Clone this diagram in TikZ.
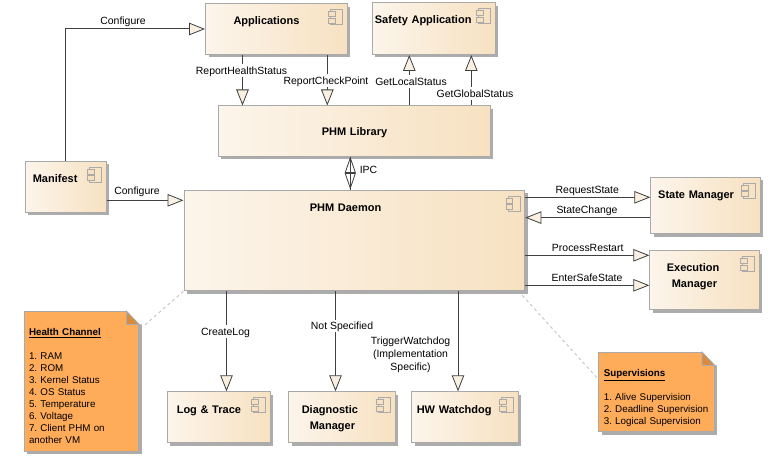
\documentclass[tikz,border=0pt]{standalone}
\usepackage{fontspec}
\setmainfont{Liberation Sans}
\frenchspacing
\usetikzlibrary{arrows.meta,shadows,calc}
\definecolor{boxleft}{RGB}{252,245,235}
\definecolor{boxright}{RGB}{247,225,193}
\definecolor{boxline}{RGB}{170,170,170}
\definecolor{shadowgray}{RGB}{172,172,172}
\definecolor{wireline}{RGB}{64,64,64}
\definecolor{tipfill}{RGB}{250,240,226}
\definecolor{notefill}{RGB}{254,171,90}
\definecolor{notefold}{RGB}{218,138,60}

\begin{document}
\begin{tikzpicture}[
  x=1pt, y=-1pt,
  comp/.style n args={4}{rectangle, draw=boxline, line width=1pt, left color=boxleft, right color=boxright, anchor=north west, inner sep=0pt, align=left, font=\fontsize{11}{16}\selectfont\bfseries, text width=#1pt, text height=#4pt, text depth=\dimexpr#2pt-#4pt\relax, execute at begin node={\leftskip=#3pt}, drop shadow={opacity=1, fill=shadowgray, shadow xshift=3pt, shadow yshift=-3pt}},
  remark/.style 2 args={rectangle, draw=boxline, line width=1pt, fill=notefill, anchor=north west, inner sep=0pt, align=left, font=\fontsize{9.8}{12}\selectfont, text width=#1pt, text height=24pt, text depth=\dimexpr#2pt-24pt\relax, execute at begin node={\leftskip=5pt}, drop shadow={opacity=1, fill=shadowgray, shadow xshift=3pt, shadow yshift=-3pt}},
  wire/.style={-{Triangle[length=16pt, width=12.5pt, fill=tipfill, line width=0.8pt]}, line width=1pt, draw=wireline},
  wirelabel/.style={font=\fontsize{10.45}{13}\selectfont, fill=white, inner sep=0.8pt, text=black, align=center, text height=9.5pt, text depth=1.7pt},
  noteline/.style={dashed, line width=1pt, draw=black!22},
  pics/compicon/.style={code={
    \draw[boxline, line width=1pt] (-17,6.5) rectangle (-5,21.5);
    \draw[boxline, line width=1pt, fill=boxright] (-19,8.5) rectangle (-12.5,13.5);
    \draw[boxline, line width=1pt, fill=boxright] (-19,15) rectangle (-12.5,20);
  }}
]
\useasboundingbox (0,0) rectangle (776,468);

% Top row
\node[comp={141.5}{50.5}{28}{20.5}] (apps) at (205,3.5) {Applications};
\node[comp={123}{51.5}{2.7}{21}] (safety) at (371.7,2.5) {Safety Application};
\node[comp={272}{50}{103.8}{29.5}] (lib) at (217.5,105.5) {PHM Library};
\node[comp={81}{51}{7.8}{21.5}] (manifest) at (24.5,160.5) {Manifest};

% Daemon and the managers
\node[comp={340.8}{100.8}{125.8}{21}] (daemon) at (183.5,189.5) {PHM Daemon};
\node[comp={109.4}{56.5}{7.4}{21.5}] (statemgr) at (650.3,176.5) {State Manager};
\node[comp={109.4}{59}{17}{21}] (execmgr) at (649.3,250.3) {Execution\\\hspace*{5pt}Manager};

% Bottom row
\node[comp={103}{51}{9.8}{21.5}] (logtrace) at (166.5,391.3) {Log \& Trace};
\node[comp={106.4}{51}{13}{21.5}] (diag) at (288.3,391.3) {Diagnostic\\\hspace*{8pt}Manager};
\node[comp={106.4}{51}{5}{21.5}] (hwdog) at (411.3,391.3) {HW Watchdog};

% Component icons
\foreach \boxname in {apps,safety,daemon,statemgr,execmgr,manifest,logtrace,diag,hwdog}
  \pic at (\boxname.north east) {compicon};

% Notes
\node[remark={114.5}{139.4}] (health) at (23.5,311.3) {\underline{\textbf{Health Channel}}\\[12pt]1. RAM\\2. ROM\\3. Kernel Status\\4. OS Status\\5. Temperature\\6. Voltage\\7. Client PHM on\\another VM};
\node[remark={115.4}{79}] (superv) at (598.3,352.3) {\underline{\textbf{Supervisions}}\\[12pt]1. Alive Supervision\\2. Deadline Supervision\\3. Logical Supervision};
\foreach \notename in {health,superv} {
  \fill[white] ($(\notename.north east)+(-13,-1)$) -- ($(\notename.north east)+(4.5,-1)$) -- ($(\notename.north east)+(4.5,13)$) -- ($(\notename.north east)+(0,13)$) -- cycle;
  \draw[boxline, line width=1pt, fill=notefold] ($(\notename.north east)+(-12.5,0)$) -- ($(\notename.north east)+(0,13)$) -- ($(\notename.north east)+(-12.5,13)$) -- cycle;
}

% Arrows
\draw[wire] (manifest.north -| 65.5,0) -- (65.5,29) -- (apps.west |- 0,29) node[wirelabel] at (123,21) {Configure};
\draw[wire] (manifest.east |- 0,200.3) -- (daemon.west |- 0,200.3) node[wirelabel] at (137,190.5) {Configure};
\draw[wire] (apps.south -| 242.5,0) -- (lib.north -| 242.5,0) node[wirelabel] at (241.5,70.5) {ReportHealthStatus};
\draw[wire] (apps.south -| 327.3,0) -- (lib.north -| 327.3,0) node[wirelabel] at (326,80.5) {ReportCheckPoint};
\draw[wire] (lib.north -| 409.3,0) -- (safety.south -| 409.3,0) node[wirelabel] at (411,81.5) {GetLocalStatus};
\draw[wire] (lib.north -| 471.3,0) -- (safety.south -| 471.3,0) node[wirelabel] at (475,93.5) {GetGlobalStatus};
\draw[line width=1pt, draw=wireline] (lib.south -| 350.3,0) -- (daemon.north -| 350.3,0);
\draw[wire, {Triangle[length=16.5pt, width=11pt, open, line width=0.8pt]}-{Triangle[length=16.5pt, width=11pt, open, line width=0.8pt]}] (lib.south -| 350.3,0) -- (daemon.north -| 350.3,0) node[wirelabel] at (368.5,169.5) {IPC};
\draw[wire] (daemon.east |- 0,197.3) -- (statemgr.west |- 0,197.3) node[wirelabel] at (587.3,189.5) {RequestState};
\draw[wire] (statemgr.west |- 0,217.6) -- (daemon.east |- 0,217.6) node[wirelabel] at (587,209.5) {StateChange};
\draw[wire] (daemon.east |- 0,255.3) -- (execmgr.west |- 0,255.3) node[wirelabel] at (587.7,247.5) {ProcessRestart};
\draw[wire] (daemon.east |- 0,285.3) -- (execmgr.west |- 0,285.3) node[wirelabel] at (587,277.5) {EnterSafeState};
\draw[wire] (daemon.south -| 226.5,0) -- (logtrace.north -| 226.5,0) node[wirelabel] at (225.5,331.5) {CreateLog};
\draw[wire] (daemon.south -| 335.5,0) -- (diag.north -| 335.5,0) node[wirelabel] at (342,326) {Not Specified};
\draw[wire] (daemon.south -| 458,0) -- (hwdog.north -| 458,0) node[wirelabel, text height={}, text depth={}] at (410.5,354.5) {TriggerWatchdog\\(Implementation\\Specific)};

% Note links
\draw[noteline] (daemon.south west) -- ($(health.north east)+(5,14.4)$);
\draw[noteline] ($(daemon.south east)+(-3,4)$) -- ($(superv.west)+(0,-13)$);

\end{tikzpicture}
\end{document}
